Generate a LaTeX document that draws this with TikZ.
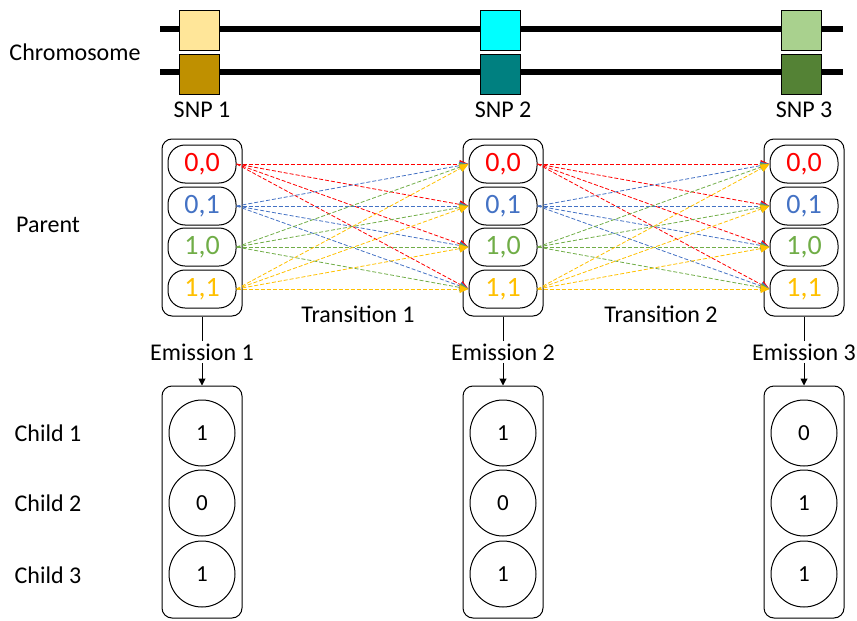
\documentclass[tikz,border=0pt]{standalone}
\usepackage{fontspec}
\setmainfont{Carlito}
\usetikzlibrary{arrows.meta}
\definecolor{stRed}{HTML}{FF0000}
\definecolor{stBlue}{HTML}{4472C4}
\definecolor{stGreen}{HTML}{70AD47}
\definecolor{stGold}{HTML}{FFC000}
\definecolor{snpAlt}{HTML}{FFE699}
\definecolor{snpAdk}{HTML}{BF9000}
\definecolor{snpBlt}{HTML}{00FFFF}
\definecolor{snpBdk}{HTML}{008080}
\definecolor{snpClt}{HTML}{A9D18E}
\definecolor{snpCdk}{HTML}{548235}

\begin{document}
\begin{tikzpicture}[x=1pt, y=-1pt, line width=1pt,
	every node/.style={font=\fontsize{24}{28}\selectfont},
	snp/.style={draw, minimum size=40pt, inner sep=0pt},
	grp/.style={draw, rounded corners=10pt, minimum width=80pt, inner sep=0pt},
	state/.style={draw, rounded corners=17pt, minimum width=68pt, minimum height=38pt, inner sep=0pt, font=\fontsize{28}{32}\selectfont},
	kid/.style={draw, circle, minimum size=66pt, inner sep=0pt, font=\fontsize{23}{26}\selectfont},
	lbl/.style={inner sep=2pt},
	trans/.style={dash pattern=on 4pt off 2pt, line width=0.8pt, -{Triangle[length=9pt,width=8pt]}}]
	\useasboundingbox (0,0) rectangle (857,621);
	% chromosome pair
	\draw[line width=6pt] (160,29) -- (843,29);
	\draw[line width=6pt] (160,72) -- (843,72);
	\node (chrom) at (75,52) {Chromosome};
	\node (parent) at (48,225) {Parent};
	\node (kidA) at (48,433) {Child 1};
	\node (kidB) at (48,503) {Child 2};
	\node (kidC) at (48,575) {Child 3};
	% one column per SNP
	\foreach \c/\x/\lt/\dk/\ka/\kb/\kc in {1/202/snpAlt/snpAdk/1/0/1, 2/503/snpBlt/snpBdk/1/0/1, 3/804/snpClt/snpCdk/0/1/1} {
		\node[snp, fill=\lt] (top\c) at (\x-3,30) {};
		\node[snp, fill=\dk] (bot\c) at (\x-3,74) {};
		\node (snp\c) at (\x,110) {SNP \c};
		\node[grp, minimum height=177pt] (par\c) at (\x,227.5) {};
		\foreach \s/\lab/\col/\yy in {1/{0,0}/stRed/164, 2/{0,1}/stBlue/206, 3/{1,0}/stGreen/247, 4/{1,1}/stGold/289}
			\node[state, text=\col] (p\c-\s) at (\x,\yy) {\lab};
		\node[lbl] (em\c) at (\x,352) {Emission \c};
		\node[grp, minimum height=232pt] (ch\c) at (\x,502) {};
		\node[kid] (k\c-1) at (\x,433) {\ka};
		\node[kid] (k\c-2) at (\x,503) {\kb};
		\node[kid] (k\c-3) at (\x,574) {\kc};
		\draw (par\c.south) -- (em\c.north);
		\draw[-{Triangle[length=7pt,width=7pt]}] (em\c.south) -- (ch\c.north);
	}
	% transitions between columns
	\foreach \a/\b in {1/2, 2/3}
		\foreach \i/\col in {1/stRed, 2/stBlue, 3/stGreen, 4/stGold}
			\foreach \j in {1,...,4}
				\draw[trans, color=\col] (p\a-\i.east) -- (p\b-\j.west);
	\node (tr1) at (358,314) {Transition 1};
	\node (tr2) at (661,314) {Transition 2};
\end{tikzpicture}
\end{document}
